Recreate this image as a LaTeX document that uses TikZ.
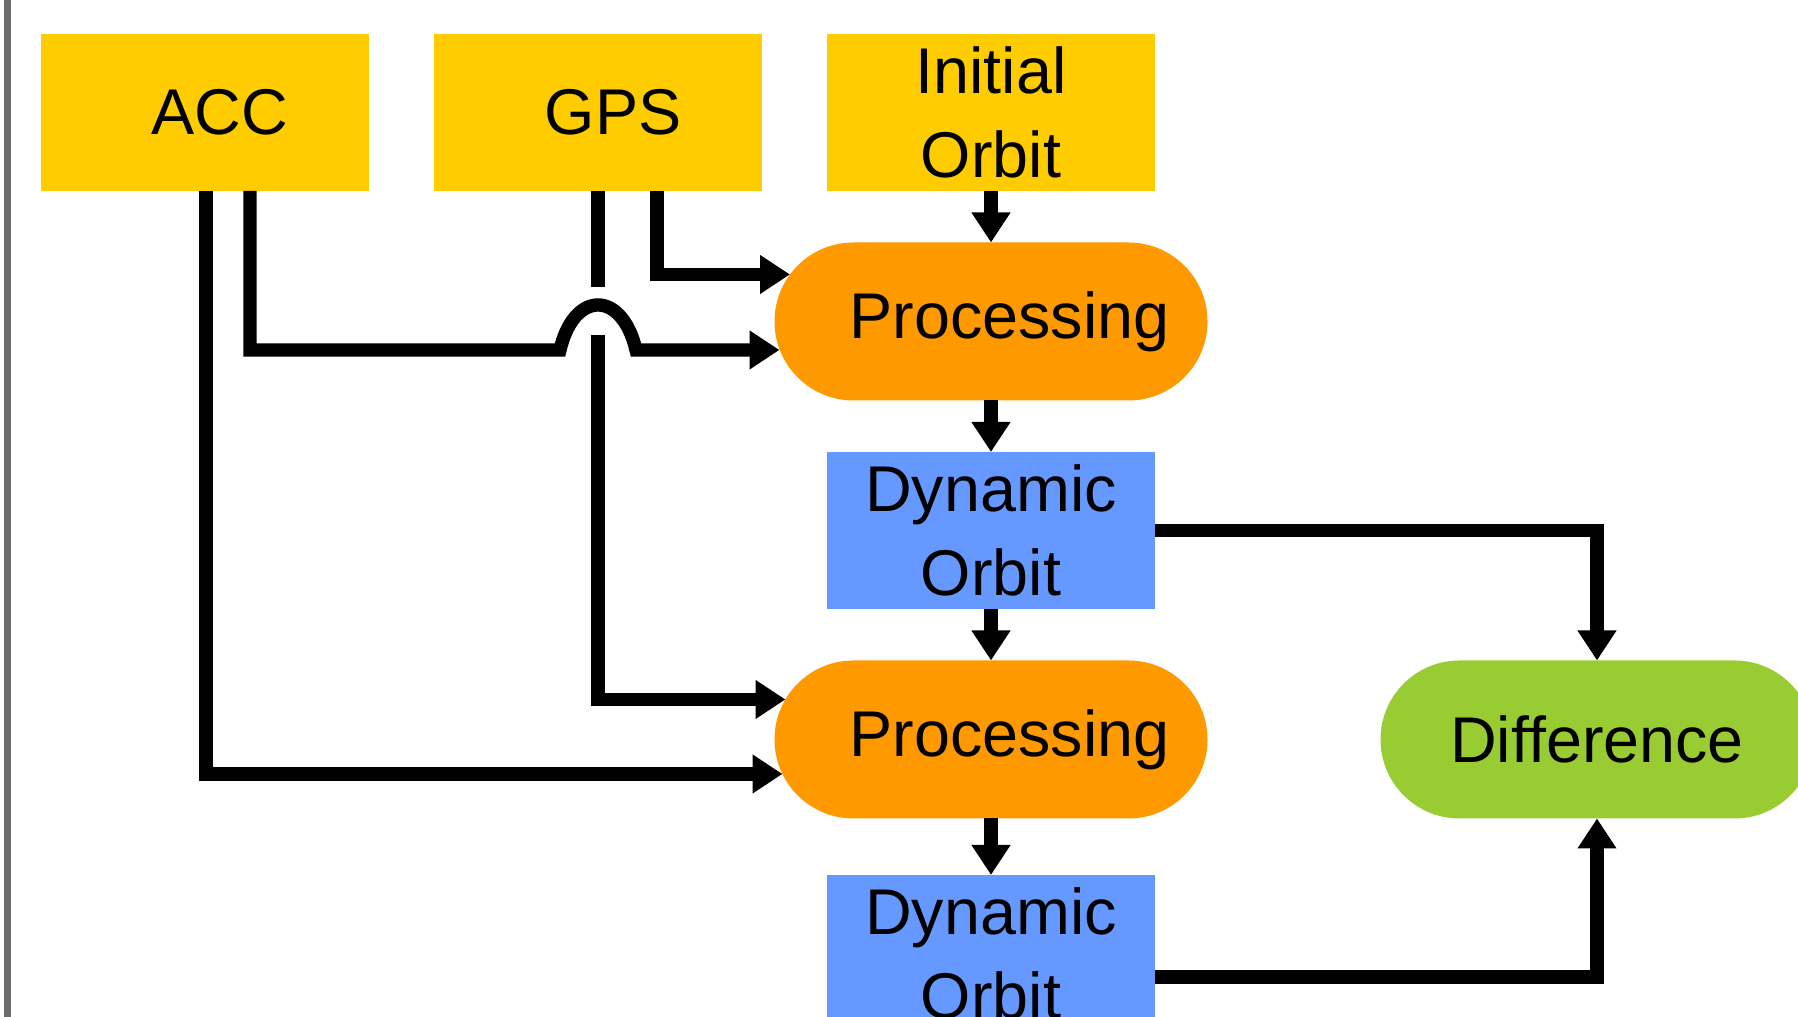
\documentclass[tikz,border=0pt]{standalone}
\usepackage{fontspec}
\setmainfont{Liberation Sans}
\usetikzlibrary{arrows.meta}
\definecolor{inyellow}{HTML}{FFCC00}
\definecolor{procorange}{HTML}{FF9900}
\definecolor{orbitblue}{HTML}{6699FF}
\definecolor{diffgreen}{HTML}{99CC33}
\definecolor{bargray}{HTML}{6C6C6C}

\begin{document}
\begin{tikzpicture}[>={Triangle[width=3.7mm,length=3mm]},line width=3.8pt,node distance=2.09cm,
    main node/.style={rectangle,minimum width=3.28cm,minimum height=1.57cm,inner sep=0pt,outer sep=0pt,align=center,font=\fontsize{18.4}{23.9}\selectfont},
    round node/.style={main node,minimum width=4.33cm,minimum height=1.58cm,rounded corners=0.79cm}]
    \useasboundingbox (0,0) rectangle (17.98,10.17);
    \clip (0,0) rectangle (17.98,10.17);
    \fill[bargray] (0.04,0) rectangle (0.11,10.17);

    \node[main node] (acc) [fill=inyellow] at (2.05,9.045) {\hspace*{3mm}ACC};
    \node[main node] (gps) [fill=inyellow,node distance=3.93cm,right of=acc] {\hspace*{3mm}GPS};
    \node[main node] (init) [fill=inyellow,node distance=3.93cm,right of=gps] {Initial\\Orbit};
    \node[round node] (proc1) [fill=procorange,below of=init] {\hspace*{3.7mm}Processing};
    \node[main node] (dyn1) [fill=orbitblue,below of=proc1] {Dynamic\\Orbit};
    \node[round node] (proc2) [fill=procorange,below of=dyn1] {\hspace*{3.7mm}Processing};
    \node[main node] (dyn2) [fill=orbitblue,node distance=2.14cm,below of=proc2] {Dynamic\\Orbit};
    \node[round node] (diff) [fill=diffgreen,node distance=6.06cm,right of=proc2] {Difference};
    \coordinate (gap) at (5.98,6.82);

    \path[->]
        (init) edge (proc1)
        (proc1) edge (dyn1)
        (dyn1) edge (proc2)
        (proc2) edge (dyn2);
    \draw[->] ([xshift=5.9mm]gps.south) |- ([xshift=1.55mm,yshift=4.7mm]proc1.west);
    \draw (gps.south) -- ++(0,-0.96);
    \draw[->] (gap) |- ([xshift=1.1mm,yshift=4mm]proc2.west);
    \draw[->] ([xshift=4.5mm]acc.south) |- (5.6,6.67) .. controls (5.74,7.27) and (6.22,7.27) .. (6.36,6.67) -- ([xshift=0.5mm,yshift=-2.85mm]proc1.west);
    \draw[->] ([xshift=0.1mm]acc.south) |- ([xshift=0.8mm,yshift=-3.45mm]proc2.west);
    \draw[->] (dyn1.east) -| (diff.north);
    \draw[->] ([yshift=-2.35mm]dyn2.east) -| (diff.south);
\end{tikzpicture}
\end{document}
